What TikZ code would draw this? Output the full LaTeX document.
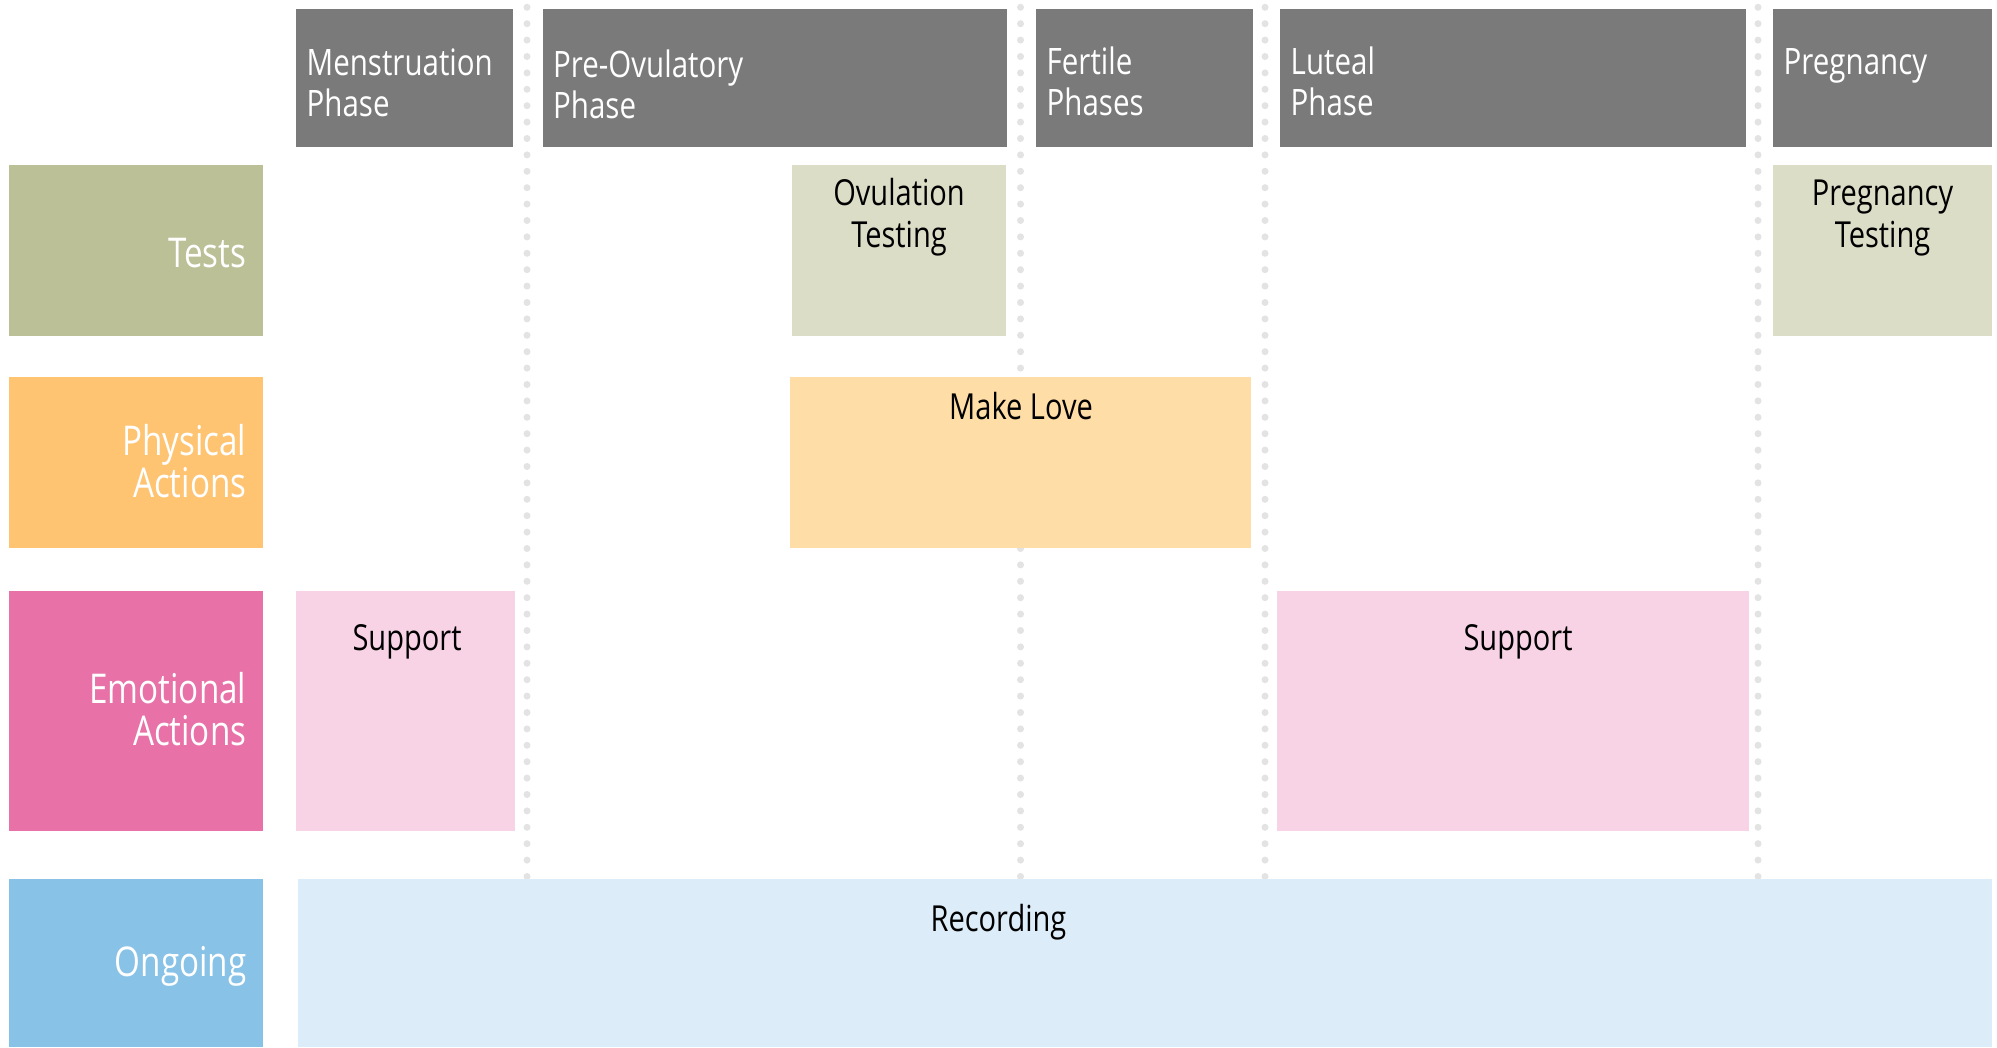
\documentclass[tikz,border=0pt]{standalone}
\usepackage{fontspec}
\setmainfont[FakeStretch=0.81]{Open Sans}
\definecolor{phasegray}{HTML}{7A7A7A}
\definecolor{dotgray}{HTML}{E3E3E3}
\definecolor{testdark}{HTML}{BCC097}
\definecolor{testlight}{HTML}{DBDDC7}
\definecolor{physdark}{HTML}{FEC472}
\definecolor{physlight}{HTML}{FEDDA6}
\definecolor{emodark}{HTML}{E872A8}
\definecolor{emolight}{HTML}{F7D3E5}
\definecolor{ongdark}{HTML}{88C2E7}
\definecolor{onglight}{HTML}{DCECF8}

\begin{document}
\begin{tikzpicture}[x=0.1mm,y=-0.1mm,
    headtext/.style={text=white,inner sep=0pt,align=left,anchor=north west,font=\fontsize{10.36}{11.66}\selectfont},
    rowtext/.style={text=white,inner sep=0pt,align=right,anchor=north east,font=\fontsize{11.67}{11.95}\selectfont},
    itemtext/.style={text=black,inner sep=0pt,align=center,anchor=north,font=\fontsize{10.2}{11.95}\selectfont},
    divider/.style={draw=dotgray,line width=0.7mm,line cap=round,dash pattern=on 0pt off 1.64mm}]
    \fill[white](0,0)rectangle(1997,1047);
    \useasboundingbox(0,0)rectangle(1997,1047);

    % phase dividers
    \foreach \dx in {527,1020.5,1265,1758}
        \draw[divider](\dx,7.3)--(\dx,890);

    % phases
    \fill[phasegray](296,9)rectangle(513,146.7);
    \fill[phasegray](542.5,9)rectangle(1007.4,146.7);
    \fill[phasegray](1036,9)rectangle(1253,146.7);
    \fill[phasegray](1280,9)rectangle(1746,146.7);
    \fill[phasegray](1773,9)rectangle(1992,146.7);
    \node[headtext](mens) at (306,48.5){Menstruation\\Phase};
    \node[headtext](preov) at (552.5,49){Pre-Ovulatory\\Phase};
    \node[headtext](fert) at (1046,46.5){Fertile\\Phases};
    \node[headtext](lut) at (1290,46.5){Luteal\\Phase};
    \node[headtext](preg) at (1783,48){Pregnancy};

    % rows
    \fill[testdark](9,165)rectangle(263,335.7);
    \fill[physdark](9,377)rectangle(263,547.6);
    \fill[emodark](9,591)rectangle(263,830.7);
    \fill[ongdark](9,879)rectangle(263,1047);
    \node[rowtext,anchor=base east](tests) at (247,267){Tests};
    \node[rowtext](phys) at (247,424){Physical\\Actions};
    \node[rowtext](emo) at (247,672){Emotional\\Actions};
    \node[rowtext,anchor=base east](ong) at (247,976.7){Ongoing};

    % actions
    \fill[testlight](792,165)rectangle(1006,335.7);
    \fill[testlight](1773,165)rectangle(1992,335.7);
    \fill[physlight](789.6,377)rectangle(1250.7,547.6);
    \fill[emolight](296,591)rectangle(514.7,830.7);
    \fill[emolight](1276.8,591)rectangle(1749,830.7);
    \fill[onglight](298,879)rectangle(1992,1047);
    \node[itemtext](ovtest) at (899,178){Ovulation\\Testing};
    \node[itemtext](pregtest) at (1882.5,179){Pregnancy\\Testing};
    \node[itemtext,anchor=base](love) at (1021,419){Make Love};
    \node[itemtext,anchor=base](supmens) at (407,650.7){Support};
    \node[itemtext,anchor=base](suplut) at (1518,650.7){Support};
    \node[itemtext,anchor=base](rec) at (998.5,931.7){Recording};
\end{tikzpicture}
\end{document}
